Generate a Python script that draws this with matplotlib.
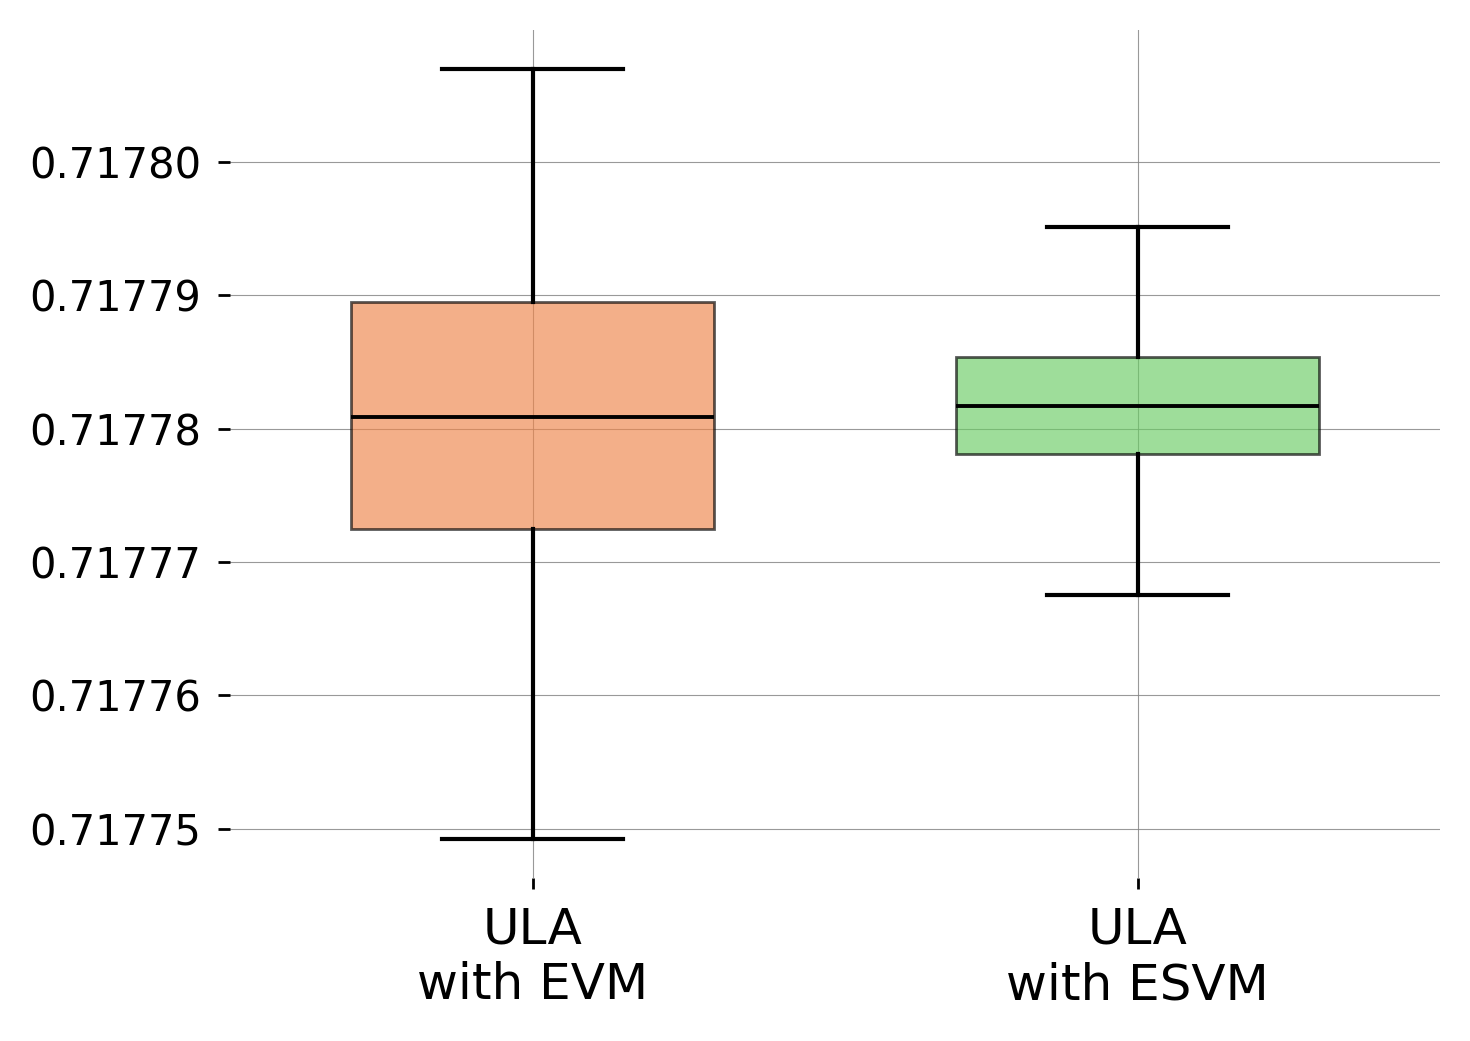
import matplotlib
matplotlib.use("Agg")
import matplotlib.pyplot as plt
from matplotlib.ticker import MultipleLocator, FormatStrFormatter

labels = ["ULA\nwith EVM", "ULA\nwith ESVM"]
whislo = [0.7177492, 0.7177675]
q1 = [0.7177725, 0.7177781]
med = [0.7177809, 0.7177817]
q3 = [0.7177895, 0.7177854]
whishi = [0.7178070, 0.7177951]
colors = ["#ee854a", "#6acc64"]

stats = []
for i in range(len(labels)):
    stats.append(dict(label=labels[i], whislo=whislo[i], q1=q1[i], med=med[i],
                      q3=q3[i], whishi=whishi[i], fliers=[]))

fig = plt.figure(figsize=(7.35, 5.205), dpi=200)
ax = fig.add_axes([0.1565, 0.1566, 0.8231, 0.8146])

bp = ax.bxp(stats, widths=0.6, patch_artist=True, showfliers=False,
            boxprops=dict(linewidth=1.0, edgecolor="black"),
            whiskerprops=dict(color="black", linewidth=1.5),
            capprops=dict(color="black", linewidth=1.5),
            medianprops=dict(color="black", linewidth=1.4))
for patch, c in zip(bp["boxes"], colors):
    patch.set_facecolor(c)
    patch.set_alpha(0.65)
    patch.set_zorder(2)
for ln in bp["whiskers"] + bp["caps"] + bp["medians"]:
    ln.set_zorder(3)

ax.set_xlim(0.5, 2.5)
ax.yaxis.set_major_locator(MultipleLocator(1e-5))
ax.yaxis.set_major_formatter(FormatStrFormatter("%.5f"))
ax.grid(True, color="gray", linewidth=0.4, alpha=0.8)
ax.set_axisbelow(True)
for s in ax.spines.values():
    s.set_visible(False)
ax.tick_params(axis="y", labelsize=15, length=4.5, width=1.0, direction="out", pad=6)
ax.tick_params(axis="x", labelsize=18, length=4.0, width=1.0, direction="out", pad=6)

fig.savefig("out.png", dpi=200)
